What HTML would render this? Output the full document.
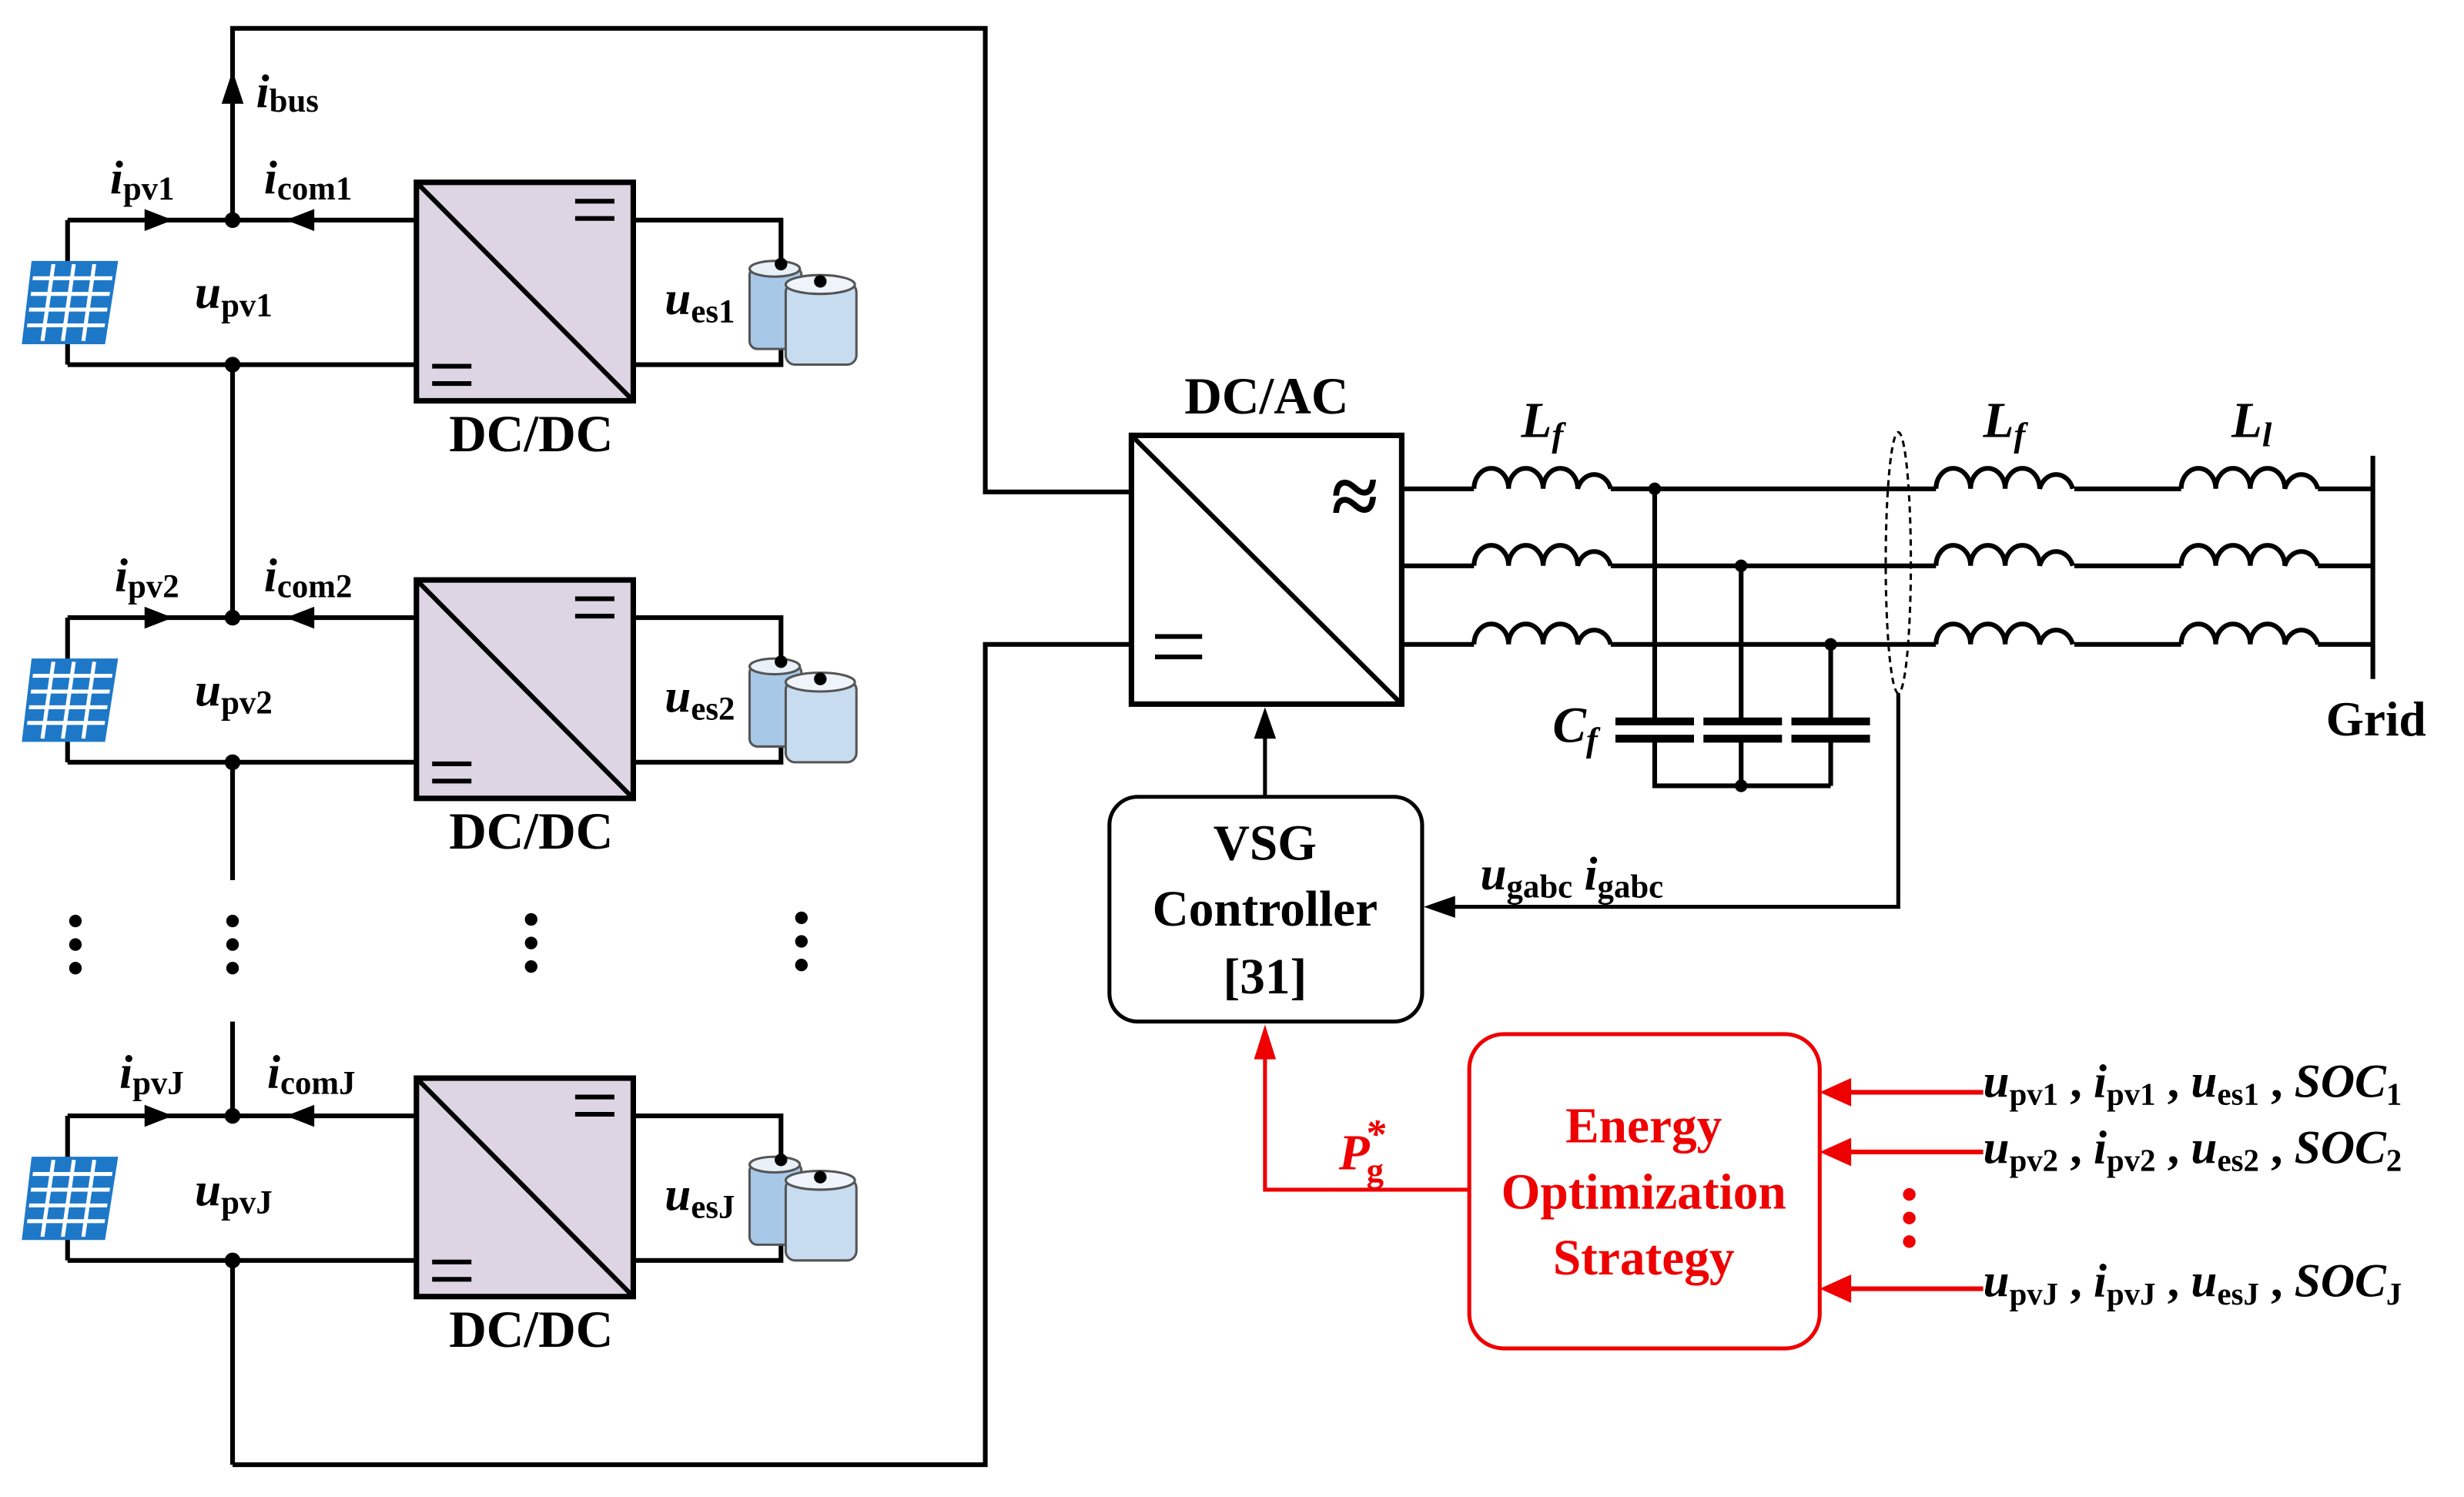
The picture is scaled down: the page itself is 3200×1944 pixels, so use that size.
<!DOCTYPE html>
<html><head><meta charset="utf-8"><style>
html,body{margin:0;padding:0;background:#fff;}
svg{display:block;}
text{font-family:"Liberation Serif",serif;font-weight:bold;}
.it{font-style:italic;}
</style></head><body>
<svg width="3200" height="1944" viewBox="0 0 1568 952.5" xmlns="http://www.w3.org/2000/svg">
<defs>
<g id="mod">
  <path d="M43 140 H265 M43 232 H265 M43 140 V170 M43 215 V232 M403 140 H497 V168 M403 232 H497 V222" stroke="#000" stroke-width="3" fill="none"/>
  <circle cx="148" cy="140" r="5"/><circle cx="148" cy="232" r="5"/>
  <path d="M92 133 L110 140 L92 147 Z"/>
  <path d="M200 133 L182 140 L200 147 Z"/>
  <g>
    <path d="M21 167 H74 L66 218 H15 Z" fill="#1e78c8"/>
    <path d="M20 177 H72 M19 187 H71 M17 197 H69 M16 207 H67 M34 168 L27 217 M47 168 L40 217 M60 168 L53 217" stroke="#fff" stroke-width="2.5"/>
    <path d="M21 167 H74 L66 218 H15 Z" fill="none" stroke="#1e78c8" stroke-width="2"/>
  </g>
  <rect x="265" y="116" width="138" height="139" fill="#ddd5e3" stroke="#000" stroke-width="3.5"/>
  <path d="M265 116 L403 255" stroke="#000" stroke-width="3"/>
  <path d="M366 128 H391 M366 139 H391 M275 233 H300 M275 244 H300" stroke="#000" stroke-width="3"/>
  <g>
    <rect x="477" y="170" width="33" height="52" rx="5" fill="#a8c8e8" stroke="#555" stroke-width="1.5"/>
    <ellipse cx="493" cy="171" rx="16" ry="5" fill="#e8f0f8" stroke="#555" stroke-width="1.5"/>
    <rect x="500" y="180" width="45" height="52" rx="6" fill="#c8dcf0" stroke="#555" stroke-width="1.5"/>
    <ellipse cx="522" cy="181" rx="22" ry="6" fill="#eef4fa" stroke="#555" stroke-width="1.5"/>
    <circle cx="497" cy="168" r="4"/><circle cx="522" cy="179" r="4"/>
  </g>
  <text x="338" y="287" font-size="33" text-anchor="middle">DC/DC</text>
</g>
<path id="coil" d="M938 311 a11 13 0 0 1 22 0 a11 13 0 0 1 22 0 a11 13 0 0 1 22 0 a11 13 0 0 1 21 0" fill="none" stroke="#000" stroke-width="3"/>
</defs>

<!-- bus -->
<path d="M148 140 V18 H627 V313 H720 M148 932 H627 V410 H720 M148 232 V393 M148 485 V560 M148 650 V710 M148 802 V932" stroke="#000" stroke-width="3" fill="none"/>
<path d="M141 66 L148 45 L155 66 Z"/>
<text x="163" y="68" font-size="30" class="it">i<tspan font-size="21" dy="3" font-style="normal">bus</tspan></text>

<use href="#mod"/>
<use href="#mod" y="253"/>
<use href="#mod" y="570"/>

<text x="70" y="123" font-size="30" class="it">i<tspan font-size="21" dy="4" font-style="normal">pv1</tspan></text>
<text x="168" y="123" font-size="30" class="it">i<tspan font-size="21" dy="4" font-style="normal">com1</tspan></text>
<text x="124" y="196" font-size="30" class="it">u<tspan font-size="21" dy="5" font-style="normal">pv1</tspan></text>
<text x="423" y="200" font-size="30" class="it">u<tspan font-size="21" dy="5" font-style="normal">es1</tspan></text>

<text x="73" y="376" font-size="30" class="it">i<tspan font-size="21" dy="4" font-style="normal">pv2</tspan></text>
<text x="168" y="376" font-size="30" class="it">i<tspan font-size="21" dy="4" font-style="normal">com2</tspan></text>
<text x="124" y="449" font-size="30" class="it">u<tspan font-size="21" dy="5" font-style="normal">pv2</tspan></text>
<text x="423" y="453" font-size="30" class="it">u<tspan font-size="21" dy="5" font-style="normal">es2</tspan></text>

<text x="76" y="692" font-size="30" class="it">i<tspan font-size="21" dy="4" font-style="normal">pvJ</tspan></text>
<text x="170" y="692" font-size="30" class="it">i<tspan font-size="21" dy="4" font-style="normal">comJ</tspan></text>
<text x="124" y="767" font-size="30" class="it">u<tspan font-size="21" dy="5" font-style="normal">pvJ</tspan></text>
<text x="423" y="770" font-size="30" class="it">u<tspan font-size="21" dy="5" font-style="normal">esJ</tspan></text>

<g>
<circle cx="48" cy="586" r="4"/><circle cx="48" cy="601" r="4"/><circle cx="48" cy="616" r="4"/>
<circle cx="148" cy="586" r="4"/><circle cx="148" cy="601" r="4"/><circle cx="148" cy="616" r="4"/>
<circle cx="338" cy="585" r="4"/><circle cx="338" cy="600" r="4"/><circle cx="338" cy="615" r="4"/>
<circle cx="510" cy="584" r="4"/><circle cx="510" cy="599" r="4"/><circle cx="510" cy="614" r="4"/>
</g>

<!-- DC/AC -->
<text x="806" y="263" font-size="33" text-anchor="middle">DC/AC</text>
<rect x="720" y="277" width="172" height="171" fill="#fff" stroke="#000" stroke-width="3.5"/>
<path d="M720 277 L892 448" stroke="#000" stroke-width="3"/>
<path d="M735 405 H765 M735 418 H765" stroke="#000" stroke-width="3"/>
<text x="862" y="334" font-size="54" text-anchor="middle" font-weight="normal">≈</text>

<g stroke="#000" stroke-width="3" fill="none">
<path d="M892 311 H938 M1025 311 H1232 M1320 311 H1388 M1475 311 H1510"/>
<path d="M892 360 H938 M1025 360 H1232 M1320 360 H1388 M1475 360 H1510"/>
<path d="M892 410 H938 M1025 410 H1232 M1320 410 H1388 M1475 410 H1510"/>
</g>
<use href="#coil"/><use href="#coil" y="49"/><use href="#coil" y="99"/>
<use href="#coil" x="294"/><use href="#coil" x="294" y="49"/><use href="#coil" x="294" y="99"/>
<use href="#coil" x="450"/><use href="#coil" x="450" y="49"/><use href="#coil" x="450" y="99"/>
<path d="M1510 290 V432" stroke="#000" stroke-width="3"/>
<text x="1512" y="468" font-size="31" text-anchor="middle">Grid</text>
<text x="968" y="278" font-size="32" class="it">L<tspan font-size="22" dy="6">f</tspan></text>
<text x="1262" y="278" font-size="32" class="it">L<tspan font-size="22" dy="6">f</tspan></text>
<text x="1420" y="278" font-size="32" class="it">L<tspan font-size="22" dy="6">l</tspan></text>

<g stroke="#000" stroke-width="3" fill="none">
<path d="M1053 311 V460 M1053 470 V500 H1165 M1108 360 V460 M1108 470 V500 M1165 410 V460 M1165 470 V500"/>
</g>
<g stroke="#000" stroke-width="5">
<path d="M1028 459 H1078 M1028 470 H1078 M1084 459 H1134 M1084 470 H1134 M1140 459 H1190 M1140 470 H1190"/>
</g>
<circle cx="1053" cy="311" r="4"/><circle cx="1108" cy="360" r="4"/><circle cx="1165" cy="410" r="4"/><circle cx="1108" cy="500" r="4"/>
<text x="988" y="472" font-size="32" class="it">C<tspan font-size="22" dy="6">f</tspan></text>

<ellipse cx="1208" cy="358" rx="8" ry="83" fill="none" stroke="#000" stroke-width="1.5" stroke-dasharray="4 3"/>
<path d="M1208 441 V577 H925" stroke="#000" stroke-width="2.5" fill="none"/>
<path d="M926 570 L906 577 L926 584 Z"/>
<text x="942" y="566" font-size="30" class="it">u<tspan font-size="21" dy="5" font-style="normal">gabc</tspan><tspan dy="-5"> i</tspan><tspan font-size="21" dy="5" font-style="normal">gabc</tspan></text>

<rect x="706" y="507" width="199" height="143" rx="18" fill="#fff" stroke="#000" stroke-width="2.5"/>
<text x="805" y="547" font-size="32" text-anchor="middle">VSG</text>
<text x="805" y="589" font-size="32" text-anchor="middle">Controller</text>
<text x="805" y="632" font-size="32" text-anchor="middle">[31]</text>
<path d="M805 507 V468" stroke="#000" stroke-width="2.5"/>
<path d="M798 470 L805 450 L812 470 Z"/>

<rect x="935" y="658" width="223" height="200" rx="22" fill="#fff" stroke="#e00" stroke-width="2.5"/>
<g fill="#e00" font-size="32" text-anchor="middle">
<text x="1046" y="727">Energy</text>
<text x="1046" y="769">Optimization</text>
<text x="1046" y="811">Strategy</text>
</g>
<path d="M935 757 H805 V672" stroke="#e00" stroke-width="2.5" fill="none"/>
<path d="M798 674 L805 652 L812 674 Z" fill="#e00"/>
<text x="852" y="744" font-size="32" class="it" fill="#e00">P<tspan font-size="22" dx="-2" dy="8" font-style="normal">g</tspan><tspan font-size="26" dx="-12" dy="-22">*</tspan></text>
<g stroke="#e00" stroke-width="3">
<path d="M1262 695 H1175 M1262 733 H1175 M1262 820 H1175"/>
</g>
<g fill="#e00">
<path d="M1178 686 L1158 695 L1178 704 Z"/>
<path d="M1178 724 L1158 733 L1178 742 Z"/>
<path d="M1178 811 L1158 820 L1178 829 Z"/>
<circle cx="1215" cy="760" r="4"/><circle cx="1215" cy="775" r="4"/><circle cx="1215" cy="790" r="4"/>
</g>
<text x="1262" y="698" font-size="30" class="it">u<tspan font-size="20" dy="5" font-style="normal">pv1</tspan><tspan dy="-5" font-style="normal"> , </tspan>i<tspan font-size="20" dy="5" font-style="normal">pv1</tspan><tspan dy="-5" font-style="normal"> , </tspan>u<tspan font-size="20" dy="5" font-style="normal">es1</tspan><tspan dy="-5" font-style="normal"> , </tspan>SOC<tspan font-size="20" dy="5" font-style="normal">1</tspan></text>
<text x="1262" y="740" font-size="30" class="it">u<tspan font-size="20" dy="5" font-style="normal">pv2</tspan><tspan dy="-5" font-style="normal"> , </tspan>i<tspan font-size="20" dy="5" font-style="normal">pv2</tspan><tspan dy="-5" font-style="normal"> , </tspan>u<tspan font-size="20" dy="5" font-style="normal">es2</tspan><tspan dy="-5" font-style="normal"> , </tspan>SOC<tspan font-size="20" dy="5" font-style="normal">2</tspan></text>
<text x="1262" y="825" font-size="30" class="it">u<tspan font-size="20" dy="5" font-style="normal">pvJ</tspan><tspan dy="-5" font-style="normal"> , </tspan>i<tspan font-size="20" dy="5" font-style="normal">pvJ</tspan><tspan dy="-5" font-style="normal"> , </tspan>u<tspan font-size="20" dy="5" font-style="normal">esJ</tspan><tspan dy="-5" font-style="normal"> , </tspan>SOC<tspan font-size="20" dy="5" font-style="normal">J</tspan></text>
</svg>
</body></html>
